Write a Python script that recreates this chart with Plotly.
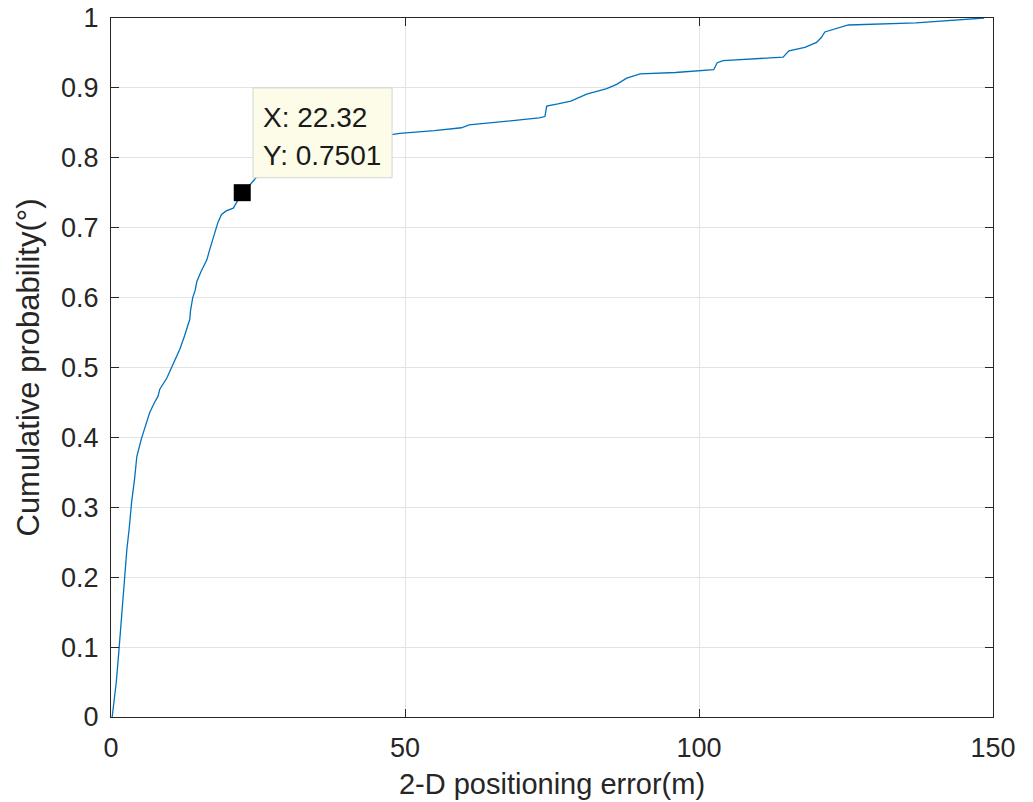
import plotly.graph_objects as go

# CDF of 2-D positioning error
error_m = [0.2, 0.5, 0.9, 1.3, 1.8, 2.3, 2.7, 3.1, 3.5, 4.0, 4.4, 5.2, 6.0, 6.6, 7.4, 8.0, 8.3,
           9.5, 10.3, 11.0, 11.7, 12.5, 13.4, 13.5, 13.9, 14.3, 14.6, 15.3, 16.3, 16.8, 17.7,
           18.2, 18.8, 19.6, 20.8, 22.32, 23.5, 25.0, 27.0, 30.0, 34.0, 40.0, 47.7, 49.1, 55.0,
           59.6, 60.9, 66.0, 72.8, 73.8, 74.1, 76.0, 78.2, 80.9, 84.3, 86.0, 87.7, 90.0, 96.0,
           102.5, 103.1, 104.1, 109.0, 114.3, 115.3, 118.0, 120.0, 120.8, 121.4, 123.4, 125.4,
           136.9, 147.7, 148.5]
cum_prob = [0.0, 0.02, 0.05, 0.09, 0.145, 0.2, 0.24, 0.27, 0.307, 0.34, 0.373, 0.399, 0.42,
            0.436, 0.45, 0.459, 0.469, 0.485, 0.5, 0.512, 0.526, 0.545, 0.569, 0.58, 0.6, 0.61,
            0.623, 0.637, 0.654, 0.669, 0.693, 0.708, 0.719, 0.724, 0.728, 0.7501, 0.76, 0.775,
            0.79, 0.805, 0.816, 0.825, 0.833, 0.835, 0.839, 0.843, 0.847, 0.851, 0.857, 0.859,
            0.874, 0.877, 0.881, 0.891, 0.899, 0.905, 0.914, 0.920, 0.922, 0.926, 0.936, 0.939,
            0.941, 0.944, 0.953, 0.958, 0.965, 0.972, 0.980, 0.985, 0.990, 0.993, 0.999, 1.0]

tip_x = [22.32]
tip_y = [0.7501]
tip_labels = ["X: 22.32", "Y: 0.7501"]

x_ticks = [0, 50, 100, 150]
y_ticks = [0, 0.1, 0.2, 0.3, 0.4, 0.5, 0.6, 0.7, 0.8, 0.9, 1]
y_tick_text = ["0", "0.1", "0.2", "0.3", "0.4", "0.5", "0.6", "0.7", "0.8", "0.9", "1"]

FONT = "Liberation Sans, Arial, Helvetica, sans-serif"
TXT = "#262626"

fig = go.Figure()
fig.add_trace(go.Scatter(x=error_m, y=cum_prob, mode="lines",
                         line=dict(color="#0072BD", width=1.3), showlegend=False,
                         hoverinfo="x+y"))
fig.add_trace(go.Scatter(x=tip_x, y=tip_y, mode="markers",
                         marker=dict(symbol="square", size=17, color="black"),
                         showlegend=False))

# data tip box (placed in data coordinates)
fig.add_shape(type="rect", xref="x", yref="y", x0=24.15, x1=47.8, y0=0.7715, y1=0.9,
              fillcolor="#FCFCE8", line=dict(color="#D4D4D4", width=1), layer="above")
fig.add_annotation(x=25.5, y=0.857, xref="x", yref="y", text=tip_labels[0], showarrow=False,
                   xanchor="left", yanchor="middle", font=dict(family=FONT, size=28, color="#1a1a1a"))
fig.add_annotation(x=25.5, y=0.803, xref="x", yref="y", text=tip_labels[1], showarrow=False,
                   xanchor="left", yanchor="middle", font=dict(family=FONT, size=28, color="#1a1a1a"))

axis_common = dict(showline=True, linecolor=TXT, linewidth=1.2, mirror="ticks",
                   ticks="inside", ticklen=8, tickcolor=TXT, tickwidth=1.2,
                   showgrid=True, gridcolor="#E3E3E3", gridwidth=1, zeroline=False,
                   ticklabeloverflow="allow", automargin=False,
                   tickfont=dict(family=FONT, size=27, color=TXT))

fig.update_xaxes(range=[0, 150], tickvals=x_ticks, ticktext=[str(v) for v in x_ticks],
                 title=dict(text="2-D positioning error(m)", standoff=12,
                            font=dict(family=FONT, size=29, color=TXT)),
                 ticklabelstandoff=6, **axis_common)
fig.update_yaxes(range=[0, 1], tickvals=y_ticks, ticktext=y_tick_text,
                 title=dict(text="Cumulative probability(°)", standoff=12,
                            font=dict(family=FONT, size=31, color=TXT)),
                 ticklabelstandoff=6, **axis_common)

fig.update_layout(width=1033, height=802, margin=dict(l=111, r=40, t=18, b=85, autoexpand=False),
                  paper_bgcolor="white", plot_bgcolor="white",
                  font=dict(family=FONT, color=TXT))

# remove the browser's default 8px page margin so the figure fills the window exactly
fig.write_html("out.html", config={"displayModeBar": False},
               post_script="document.body.style.margin='0';")
